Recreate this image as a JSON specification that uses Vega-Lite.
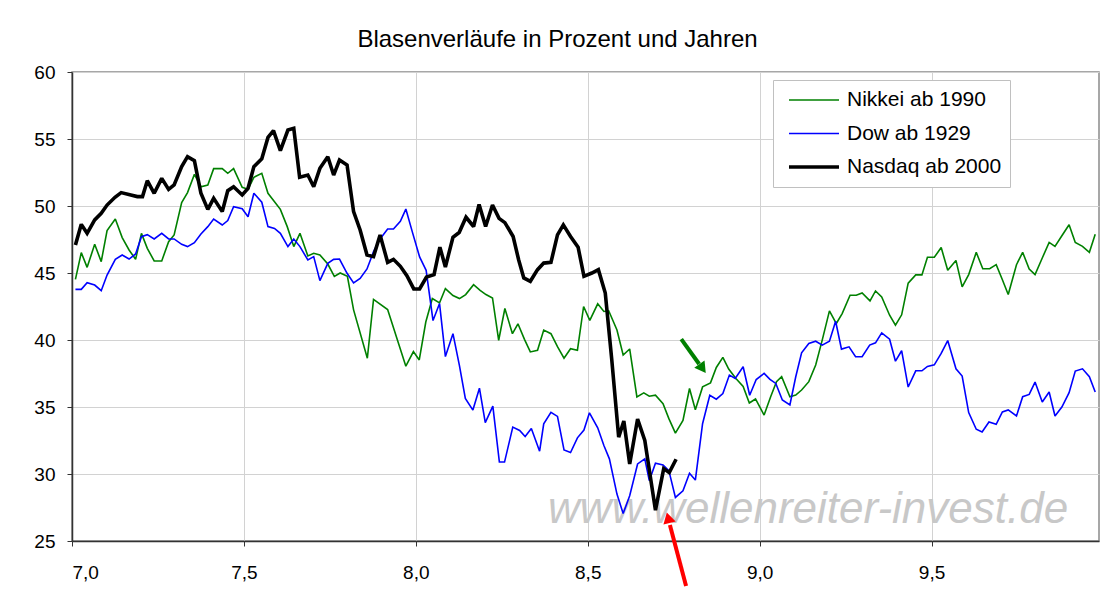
{
  "$schema": "https://vega.github.io/schema/vega-lite/v6.json",
  "autosize": {"type": "none"},
  "width": 1027,
  "height": 469,
  "padding": {"left": 72, "top": 72, "right": 13, "bottom": 56},
  "background": "white",
  "title": {"text": "Blasenverläufe in Prozent und Jahren", "fontSize": 24, "font": "Liberation Sans", "fontWeight": "normal", "color": "#000000", "anchor": "middle", "dx": -28, "offset": 11},
  "config": {
    "font": "Liberation Sans",
    "view": {"stroke": "#8a8a8a", "strokeWidth": 1.5},
    "axis": {"gridColor": "#d2d2d2", "gridWidth": 1, "domainColor": "#333333", "domainWidth": 1.5, "tickColor": "#333333", "labelColor": "#000000", "labelFont": "Liberation Sans", "labelFontSize": 19, "tickSize": 5}
  },
  "datasets": {
    "series": [
      {"s":"Nikkei ab 1990","x":7.010,"v":44.53},{"s":"Nikkei ab 1990","x":7.027,"v":46.52},{"s":"Nikkei ab 1990","x":7.044,"v":45.42},{"s":"Nikkei ab 1990","x":7.066,"v":47.14},{"s":"Nikkei ab 1990","x":7.085,"v":45.85},{"s":"Nikkei ab 1990","x":7.102,"v":48.16},{"s":"Nikkei ab 1990","x":7.126,"v":49.03},{"s":"Nikkei ab 1990","x":7.146,"v":47.64},{"s":"Nikkei ab 1990","x":7.166,"v":46.72},{"s":"Nikkei ab 1990","x":7.185,"v":46.02},{"s":"Nikkei ab 1990","x":7.202,"v":47.96},{"s":"Nikkei ab 1990","x":7.219,"v":46.84},{"s":"Nikkei ab 1990","x":7.239,"v":45.90},{"s":"Nikkei ab 1990","x":7.261,"v":45.90},{"s":"Nikkei ab 1990","x":7.281,"v":47.34},{"s":"Nikkei ab 1990","x":7.297,"v":47.84},{"s":"Nikkei ab 1990","x":7.319,"v":50.25},{"s":"Nikkei ab 1990","x":7.336,"v":51.00},{"s":"Nikkei ab 1990","x":7.356,"v":52.36},{"s":"Nikkei ab 1990","x":7.375,"v":51.44},{"s":"Nikkei ab 1990","x":7.395,"v":51.57},{"s":"Nikkei ab 1990","x":7.412,"v":52.79},{"s":"Nikkei ab 1990","x":7.437,"v":52.79},{"s":"Nikkei ab 1990","x":7.453,"v":52.44},{"s":"Nikkei ab 1990","x":7.470,"v":52.79},{"s":"Nikkei ab 1990","x":7.495,"v":51.40},{"s":"Nikkei ab 1990","x":7.512,"v":51.25},{"s":"Nikkei ab 1990","x":7.529,"v":52.14},{"s":"Nikkei ab 1990","x":7.552,"v":52.44},{"s":"Nikkei ab 1990","x":7.570,"v":50.95},{"s":"Nikkei ab 1990","x":7.589,"v":50.32},{"s":"Nikkei ab 1990","x":7.606,"v":49.75},{"s":"Nikkei ab 1990","x":7.626,"v":48.46},{"s":"Nikkei ab 1990","x":7.645,"v":46.97},{"s":"Nikkei ab 1990","x":7.663,"v":47.96},{"s":"Nikkei ab 1990","x":7.686,"v":46.27},{"s":"Nikkei ab 1990","x":7.703,"v":46.47},{"s":"Nikkei ab 1990","x":7.721,"v":46.34},{"s":"Nikkei ab 1990","x":7.744,"v":45.67},{"s":"Nikkei ab 1990","x":7.763,"v":44.75},{"s":"Nikkei ab 1990","x":7.780,"v":45.00},{"s":"Nikkei ab 1990","x":7.801,"v":44.75},{"s":"Nikkei ab 1990","x":7.819,"v":42.25},{"s":"Nikkei ab 1990","x":7.859,"v":38.64},{"s":"Nikkei ab 1990","x":7.877,"v":43.03},{"s":"Nikkei ab 1990","x":7.918,"v":42.27},{"s":"Nikkei ab 1990","x":7.971,"v":38.05},{"s":"Nikkei ab 1990","x":7.993,"v":39.14},{"s":"Nikkei ab 1990","x":8.010,"v":38.51},{"s":"Nikkei ab 1990","x":8.029,"v":41.34},{"s":"Nikkei ab 1990","x":8.048,"v":43.10},{"s":"Nikkei ab 1990","x":8.069,"v":42.77},{"s":"Nikkei ab 1990","x":8.086,"v":43.84},{"s":"Nikkei ab 1990","x":8.108,"v":43.32},{"s":"Nikkei ab 1990","x":8.127,"v":43.09},{"s":"Nikkei ab 1990","x":8.145,"v":43.39},{"s":"Nikkei ab 1990","x":8.168,"v":44.13},{"s":"Nikkei ab 1990","x":8.187,"v":43.71},{"s":"Nikkei ab 1990","x":8.204,"v":43.39},{"s":"Nikkei ab 1990","x":8.223,"v":43.14},{"s":"Nikkei ab 1990","x":8.241,"v":39.98},{"s":"Nikkei ab 1990","x":8.259,"v":42.35},{"s":"Nikkei ab 1990","x":8.281,"v":40.47},{"s":"Nikkei ab 1990","x":8.297,"v":41.21},{"s":"Nikkei ab 1990","x":8.316,"v":40.05},{"s":"Nikkei ab 1990","x":8.333,"v":39.11},{"s":"Nikkei ab 1990","x":8.354,"v":39.23},{"s":"Nikkei ab 1990","x":8.372,"v":40.74},{"s":"Nikkei ab 1990","x":8.393,"v":40.47},{"s":"Nikkei ab 1990","x":8.412,"v":39.50},{"s":"Nikkei ab 1990","x":8.431,"v":38.64},{"s":"Nikkei ab 1990","x":8.450,"v":39.35},{"s":"Nikkei ab 1990","x":8.470,"v":39.23},{"s":"Nikkei ab 1990","x":8.488,"v":42.50},{"s":"Nikkei ab 1990","x":8.506,"v":41.46},{"s":"Nikkei ab 1990","x":8.529,"v":42.70},{"s":"Nikkei ab 1990","x":8.547,"v":42.13},{"s":"Nikkei ab 1990","x":8.561,"v":42.18},{"s":"Nikkei ab 1990","x":8.585,"v":40.75},{"s":"Nikkei ab 1990","x":8.603,"v":38.88},{"s":"Nikkei ab 1990","x":8.622,"v":39.33},{"s":"Nikkei ab 1990","x":8.643,"v":35.75},{"s":"Nikkei ab 1990","x":8.663,"v":36.05},{"s":"Nikkei ab 1990","x":8.679,"v":35.80},{"s":"Nikkei ab 1990","x":8.697,"v":35.88},{"s":"Nikkei ab 1990","x":8.719,"v":35.25},{"s":"Nikkei ab 1990","x":8.736,"v":34.13},{"s":"Nikkei ab 1990","x":8.755,"v":33.05},{"s":"Nikkei ab 1990","x":8.777,"v":34.00},{"s":"Nikkei ab 1990","x":8.796,"v":36.38},{"s":"Nikkei ab 1990","x":8.813,"v":34.80},{"s":"Nikkei ab 1990","x":8.834,"v":36.50},{"s":"Nikkei ab 1990","x":8.857,"v":36.80},{"s":"Nikkei ab 1990","x":8.874,"v":37.95},{"s":"Nikkei ab 1990","x":8.893,"v":38.70},{"s":"Nikkei ab 1990","x":8.910,"v":37.83},{"s":"Nikkei ab 1990","x":8.931,"v":37.13},{"s":"Nikkei ab 1990","x":8.952,"v":36.53},{"s":"Nikkei ab 1990","x":8.970,"v":35.30},{"s":"Nikkei ab 1990","x":8.988,"v":35.60},{"s":"Nikkei ab 1990","x":9.013,"v":34.40},{"s":"Nikkei ab 1990","x":9.032,"v":35.77},{"s":"Nikkei ab 1990","x":9.049,"v":36.89},{"s":"Nikkei ab 1990","x":9.064,"v":37.26},{"s":"Nikkei ab 1990","x":9.088,"v":35.77},{"s":"Nikkei ab 1990","x":9.105,"v":35.89},{"s":"Nikkei ab 1990","x":9.122,"v":36.27},{"s":"Nikkei ab 1990","x":9.143,"v":36.89},{"s":"Nikkei ab 1990","x":9.163,"v":38.13},{"s":"Nikkei ab 1990","x":9.182,"v":39.99},{"s":"Nikkei ab 1990","x":9.203,"v":42.17},{"s":"Nikkei ab 1990","x":9.223,"v":41.23},{"s":"Nikkei ab 1990","x":9.240,"v":41.97},{"s":"Nikkei ab 1990","x":9.263,"v":43.34},{"s":"Nikkei ab 1990","x":9.281,"v":43.34},{"s":"Nikkei ab 1990","x":9.298,"v":43.51},{"s":"Nikkei ab 1990","x":9.321,"v":42.92},{"s":"Nikkei ab 1990","x":9.337,"v":43.66},{"s":"Nikkei ab 1990","x":9.355,"v":43.21},{"s":"Nikkei ab 1990","x":9.378,"v":41.85},{"s":"Nikkei ab 1990","x":9.395,"v":41.10},{"s":"Nikkei ab 1990","x":9.413,"v":41.88},{"s":"Nikkei ab 1990","x":9.432,"v":44.24},{"s":"Nikkei ab 1990","x":9.454,"v":44.86},{"s":"Nikkei ab 1990","x":9.472,"v":44.86},{"s":"Nikkei ab 1990","x":9.488,"v":46.17},{"s":"Nikkei ab 1990","x":9.508,"v":46.17},{"s":"Nikkei ab 1990","x":9.528,"v":46.90},{"s":"Nikkei ab 1990","x":9.547,"v":45.20},{"s":"Nikkei ab 1990","x":9.571,"v":45.94},{"s":"Nikkei ab 1990","x":9.589,"v":43.96},{"s":"Nikkei ab 1990","x":9.608,"v":44.88},{"s":"Nikkei ab 1990","x":9.630,"v":46.54},{"s":"Nikkei ab 1990","x":9.649,"v":45.32},{"s":"Nikkei ab 1990","x":9.669,"v":45.32},{"s":"Nikkei ab 1990","x":9.688,"v":45.62},{"s":"Nikkei ab 1990","x":9.706,"v":44.50},{"s":"Nikkei ab 1990","x":9.723,"v":43.39},{"s":"Nikkei ab 1990","x":9.747,"v":45.62},{"s":"Nikkei ab 1990","x":9.765,"v":46.54},{"s":"Nikkei ab 1990","x":9.784,"v":45.30},{"s":"Nikkei ab 1990","x":9.801,"v":44.88},{"s":"Nikkei ab 1990","x":9.822,"v":46.12},{"s":"Nikkei ab 1990","x":9.842,"v":47.28},{"s":"Nikkei ab 1990","x":9.859,"v":46.99},{"s":"Nikkei ab 1990","x":9.879,"v":47.78},{"s":"Nikkei ab 1990","x":9.900,"v":48.60},{"s":"Nikkei ab 1990","x":9.918,"v":47.28},{"s":"Nikkei ab 1990","x":9.939,"v":46.99},{"s":"Nikkei ab 1990","x":9.959,"v":46.54},{"s":"Nikkei ab 1990","x":9.976,"v":47.90},
      {"s":"Dow  ab 1929","x":7.010,"v":43.78},{"s":"Dow  ab 1929","x":7.027,"v":43.78},{"s":"Dow  ab 1929","x":7.044,"v":44.28},{"s":"Dow  ab 1929","x":7.066,"v":44.10},{"s":"Dow  ab 1929","x":7.085,"v":43.68},{"s":"Dow  ab 1929","x":7.102,"v":44.85},{"s":"Dow  ab 1929","x":7.126,"v":46.02},{"s":"Dow  ab 1929","x":7.146,"v":46.34},{"s":"Dow  ab 1929","x":7.166,"v":46.04},{"s":"Dow  ab 1929","x":7.185,"v":46.42},{"s":"Dow  ab 1929","x":7.202,"v":47.71},{"s":"Dow  ab 1929","x":7.219,"v":47.86},{"s":"Dow  ab 1929","x":7.239,"v":47.54},{"s":"Dow  ab 1929","x":7.261,"v":47.96},{"s":"Dow  ab 1929","x":7.281,"v":47.54},{"s":"Dow  ab 1929","x":7.297,"v":47.54},{"s":"Dow  ab 1929","x":7.319,"v":47.14},{"s":"Dow  ab 1929","x":7.336,"v":46.97},{"s":"Dow  ab 1929","x":7.356,"v":47.26},{"s":"Dow  ab 1929","x":7.375,"v":47.91},{"s":"Dow  ab 1929","x":7.395,"v":48.46},{"s":"Dow  ab 1929","x":7.412,"v":49.03},{"s":"Dow  ab 1929","x":7.437,"v":48.58},{"s":"Dow  ab 1929","x":7.453,"v":48.91},{"s":"Dow  ab 1929","x":7.470,"v":49.95},{"s":"Dow  ab 1929","x":7.495,"v":49.80},{"s":"Dow  ab 1929","x":7.512,"v":49.20},{"s":"Dow  ab 1929","x":7.529,"v":50.95},{"s":"Dow  ab 1929","x":7.552,"v":50.28},{"s":"Dow  ab 1929","x":7.570,"v":48.46},{"s":"Dow  ab 1929","x":7.589,"v":48.33},{"s":"Dow  ab 1929","x":7.606,"v":47.96},{"s":"Dow  ab 1929","x":7.628,"v":46.97},{"s":"Dow  ab 1929","x":7.645,"v":47.54},{"s":"Dow  ab 1929","x":7.663,"v":46.97},{"s":"Dow  ab 1929","x":7.686,"v":45.97},{"s":"Dow  ab 1929","x":7.703,"v":46.22},{"s":"Dow  ab 1929","x":7.721,"v":44.43},{"s":"Dow  ab 1929","x":7.744,"v":45.72},{"s":"Dow  ab 1929","x":7.761,"v":46.02},{"s":"Dow  ab 1929","x":7.778,"v":46.04},{"s":"Dow  ab 1929","x":7.800,"v":44.98},{"s":"Dow  ab 1929","x":7.819,"v":44.26},{"s":"Dow  ab 1929","x":7.838,"v":44.60},{"s":"Dow  ab 1929","x":7.858,"v":45.30},{"s":"Dow  ab 1929","x":7.877,"v":46.59},{"s":"Dow  ab 1929","x":7.896,"v":47.54},{"s":"Dow  ab 1929","x":7.918,"v":48.28},{"s":"Dow  ab 1929","x":7.935,"v":48.28},{"s":"Dow  ab 1929","x":7.955,"v":48.85},{"s":"Dow  ab 1929","x":7.971,"v":49.77},{"s":"Dow  ab 1929","x":7.990,"v":48.05},{"s":"Dow  ab 1929","x":8.011,"v":46.20},{"s":"Dow  ab 1929","x":8.030,"v":45.20},{"s":"Dow  ab 1929","x":8.050,"v":41.45},{"s":"Dow  ab 1929","x":8.069,"v":42.72},{"s":"Dow  ab 1929","x":8.086,"v":38.76},{"s":"Dow  ab 1929","x":8.108,"v":40.47},{"s":"Dow  ab 1929","x":8.127,"v":38.07},{"s":"Dow  ab 1929","x":8.144,"v":35.64},{"s":"Dow  ab 1929","x":8.166,"v":34.77},{"s":"Dow  ab 1929","x":8.185,"v":36.40},{"s":"Dow  ab 1929","x":8.202,"v":33.84},{"s":"Dow  ab 1929","x":8.224,"v":35.07},{"s":"Dow  ab 1929","x":8.243,"v":30.89},{"s":"Dow  ab 1929","x":8.258,"v":30.89},{"s":"Dow  ab 1929","x":8.282,"v":33.50},{"s":"Dow  ab 1929","x":8.302,"v":33.25},{"s":"Dow  ab 1929","x":8.318,"v":32.80},{"s":"Dow  ab 1929","x":8.336,"v":33.40},{"s":"Dow  ab 1929","x":8.360,"v":31.70},{"s":"Dow  ab 1929","x":8.372,"v":33.74},{"s":"Dow  ab 1929","x":8.393,"v":34.60},{"s":"Dow  ab 1929","x":8.412,"v":34.30},{"s":"Dow  ab 1929","x":8.431,"v":31.80},{"s":"Dow  ab 1929","x":8.450,"v":31.60},{"s":"Dow  ab 1929","x":8.470,"v":32.70},{"s":"Dow  ab 1929","x":8.489,"v":33.28},{"s":"Dow  ab 1929","x":8.505,"v":34.57},{"s":"Dow  ab 1929","x":8.529,"v":33.45},{"s":"Dow  ab 1929","x":8.547,"v":32.13},{"s":"Dow  ab 1929","x":8.563,"v":31.13},{"s":"Dow  ab 1929","x":8.585,"v":28.50},{"s":"Dow  ab 1929","x":8.603,"v":27.05},{"s":"Dow  ab 1929","x":8.622,"v":28.38},{"s":"Dow  ab 1929","x":8.645,"v":30.75},{"s":"Dow  ab 1929","x":8.666,"v":31.13},{"s":"Dow  ab 1929","x":8.679,"v":29.50},{"s":"Dow  ab 1929","x":8.697,"v":30.80},{"s":"Dow  ab 1929","x":8.719,"v":30.68},{"s":"Dow  ab 1929","x":8.736,"v":30.25},{"s":"Dow  ab 1929","x":8.755,"v":28.25},{"s":"Dow  ab 1929","x":8.777,"v":28.75},{"s":"Dow  ab 1929","x":8.796,"v":30.05},{"s":"Dow  ab 1929","x":8.813,"v":29.55},{"s":"Dow  ab 1929","x":8.834,"v":33.75},{"s":"Dow  ab 1929","x":8.855,"v":35.88},{"s":"Dow  ab 1929","x":8.874,"v":35.58},{"s":"Dow  ab 1929","x":8.893,"v":36.00},{"s":"Dow  ab 1929","x":8.912,"v":37.38},{"s":"Dow  ab 1929","x":8.929,"v":37.13},{"s":"Dow  ab 1929","x":8.952,"v":38.00},{"s":"Dow  ab 1929","x":8.971,"v":35.88},{"s":"Dow  ab 1929","x":8.990,"v":37.05},{"s":"Dow  ab 1929","x":9.013,"v":37.51},{"s":"Dow  ab 1929","x":9.030,"v":37.06},{"s":"Dow  ab 1929","x":9.047,"v":36.76},{"s":"Dow  ab 1929","x":9.066,"v":35.52},{"s":"Dow  ab 1929","x":9.088,"v":35.15},{"s":"Dow  ab 1929","x":9.105,"v":37.26},{"s":"Dow  ab 1929","x":9.122,"v":39.04},{"s":"Dow  ab 1929","x":9.143,"v":39.74},{"s":"Dow  ab 1929","x":9.163,"v":39.91},{"s":"Dow  ab 1929","x":9.182,"v":39.62},{"s":"Dow  ab 1929","x":9.203,"v":39.91},{"s":"Dow  ab 1929","x":9.221,"v":41.40},{"s":"Dow  ab 1929","x":9.238,"v":39.32},{"s":"Dow  ab 1929","x":9.260,"v":39.49},{"s":"Dow  ab 1929","x":9.279,"v":38.75},{"s":"Dow  ab 1929","x":9.298,"v":38.75},{"s":"Dow  ab 1929","x":9.320,"v":39.62},{"s":"Dow  ab 1929","x":9.337,"v":39.79},{"s":"Dow  ab 1929","x":9.355,"v":40.53},{"s":"Dow  ab 1929","x":9.378,"v":40.06},{"s":"Dow  ab 1929","x":9.395,"v":38.42},{"s":"Dow  ab 1929","x":9.413,"v":39.20},{"s":"Dow  ab 1929","x":9.432,"v":36.49},{"s":"Dow  ab 1929","x":9.454,"v":37.70},{"s":"Dow  ab 1929","x":9.472,"v":37.70},{"s":"Dow  ab 1929","x":9.488,"v":38.03},{"s":"Dow  ab 1929","x":9.508,"v":38.15},{"s":"Dow  ab 1929","x":9.528,"v":39.00},{"s":"Dow  ab 1929","x":9.547,"v":39.96},{"s":"Dow  ab 1929","x":9.571,"v":37.85},{"s":"Dow  ab 1929","x":9.589,"v":37.31},{"s":"Dow  ab 1929","x":9.608,"v":34.58},{"s":"Dow  ab 1929","x":9.630,"v":33.34},{"s":"Dow  ab 1929","x":9.647,"v":33.14},{"s":"Dow  ab 1929","x":9.667,"v":33.88},{"s":"Dow  ab 1929","x":9.688,"v":33.71},{"s":"Dow  ab 1929","x":9.706,"v":34.63},{"s":"Dow  ab 1929","x":9.723,"v":34.78},{"s":"Dow  ab 1929","x":9.747,"v":34.33},{"s":"Dow  ab 1929","x":9.765,"v":35.77},{"s":"Dow  ab 1929","x":9.784,"v":35.94},{"s":"Dow  ab 1929","x":9.801,"v":36.86},{"s":"Dow  ab 1929","x":9.822,"v":35.37},{"s":"Dow  ab 1929","x":9.842,"v":36.12},{"s":"Dow  ab 1929","x":9.859,"v":34.33},{"s":"Dow  ab 1929","x":9.879,"v":35.00},{"s":"Dow  ab 1929","x":9.900,"v":36.07},{"s":"Dow  ab 1929","x":9.918,"v":37.68},{"s":"Dow  ab 1929","x":9.939,"v":37.85},{"s":"Dow  ab 1929","x":9.959,"v":37.26},{"s":"Dow  ab 1929","x":9.976,"v":36.12},
      {"s":"Nasdaq ab 2000","x":7.010,"v":47.09},{"s":"Nasdaq ab 2000","x":7.027,"v":48.63},{"s":"Nasdaq ab 2000","x":7.044,"v":47.96},{"s":"Nasdaq ab 2000","x":7.066,"v":48.96},{"s":"Nasdaq ab 2000","x":7.085,"v":49.45},{"s":"Nasdaq ab 2000","x":7.102,"v":50.07},{"s":"Nasdaq ab 2000","x":7.125,"v":50.65},{"s":"Nasdaq ab 2000","x":7.143,"v":51.00},{"s":"Nasdaq ab 2000","x":7.171,"v":50.82},{"s":"Nasdaq ab 2000","x":7.190,"v":50.70},{"s":"Nasdaq ab 2000","x":7.205,"v":50.70},{"s":"Nasdaq ab 2000","x":7.219,"v":51.89},{"s":"Nasdaq ab 2000","x":7.239,"v":50.95},{"s":"Nasdaq ab 2000","x":7.261,"v":52.06},{"s":"Nasdaq ab 2000","x":7.281,"v":51.24},{"s":"Nasdaq ab 2000","x":7.297,"v":51.57},{"s":"Nasdaq ab 2000","x":7.319,"v":52.94},{"s":"Nasdaq ab 2000","x":7.336,"v":53.68},{"s":"Nasdaq ab 2000","x":7.356,"v":53.38},{"s":"Nasdaq ab 2000","x":7.375,"v":50.95},{"s":"Nasdaq ab 2000","x":7.395,"v":49.75},{"s":"Nasdaq ab 2000","x":7.412,"v":50.57},{"s":"Nasdaq ab 2000","x":7.437,"v":49.58},{"s":"Nasdaq ab 2000","x":7.453,"v":51.14},{"s":"Nasdaq ab 2000","x":7.470,"v":51.44},{"s":"Nasdaq ab 2000","x":7.495,"v":50.82},{"s":"Nasdaq ab 2000","x":7.512,"v":51.32},{"s":"Nasdaq ab 2000","x":7.529,"v":52.94},{"s":"Nasdaq ab 2000","x":7.552,"v":53.52},{"s":"Nasdaq ab 2000","x":7.570,"v":55.12},{"s":"Nasdaq ab 2000","x":7.586,"v":55.62},{"s":"Nasdaq ab 2000","x":7.606,"v":54.13},{"s":"Nasdaq ab 2000","x":7.628,"v":55.67},{"s":"Nasdaq ab 2000","x":7.645,"v":55.80},{"s":"Nasdaq ab 2000","x":7.662,"v":52.14},{"s":"Nasdaq ab 2000","x":7.686,"v":52.31},{"s":"Nasdaq ab 2000","x":7.703,"v":51.44},{"s":"Nasdaq ab 2000","x":7.721,"v":52.81},{"s":"Nasdaq ab 2000","x":7.744,"v":53.68},{"s":"Nasdaq ab 2000","x":7.761,"v":52.31},{"s":"Nasdaq ab 2000","x":7.778,"v":53.43},{"s":"Nasdaq ab 2000","x":7.800,"v":53.06},{"s":"Nasdaq ab 2000","x":7.819,"v":49.58},{"s":"Nasdaq ab 2000","x":7.838,"v":48.21},{"s":"Nasdaq ab 2000","x":7.858,"v":46.34},{"s":"Nasdaq ab 2000","x":7.877,"v":46.22},{"s":"Nasdaq ab 2000","x":7.896,"v":47.84},{"s":"Nasdaq ab 2000","x":7.918,"v":45.80},{"s":"Nasdaq ab 2000","x":7.935,"v":46.02},{"s":"Nasdaq ab 2000","x":7.955,"v":45.50},{"s":"Nasdaq ab 2000","x":7.974,"v":44.80},{"s":"Nasdaq ab 2000","x":7.994,"v":43.81},{"s":"Nasdaq ab 2000","x":8.011,"v":43.81},{"s":"Nasdaq ab 2000","x":8.031,"v":44.70},{"s":"Nasdaq ab 2000","x":8.053,"v":44.88},{"s":"Nasdaq ab 2000","x":8.070,"v":46.93},{"s":"Nasdaq ab 2000","x":8.086,"v":45.45},{"s":"Nasdaq ab 2000","x":8.108,"v":47.67},{"s":"Nasdaq ab 2000","x":8.126,"v":48.02},{"s":"Nasdaq ab 2000","x":8.146,"v":49.16},{"s":"Nasdaq ab 2000","x":8.168,"v":48.47},{"s":"Nasdaq ab 2000","x":8.184,"v":50.12},{"s":"Nasdaq ab 2000","x":8.203,"v":48.47},{"s":"Nasdaq ab 2000","x":8.223,"v":50.07},{"s":"Nasdaq ab 2000","x":8.242,"v":49.08},{"s":"Nasdaq ab 2000","x":8.259,"v":48.76},{"s":"Nasdaq ab 2000","x":8.283,"v":47.72},{"s":"Nasdaq ab 2000","x":8.299,"v":45.99},{"s":"Nasdaq ab 2000","x":8.314,"v":44.63},{"s":"Nasdaq ab 2000","x":8.333,"v":44.38},{"s":"Nasdaq ab 2000","x":8.354,"v":45.25},{"s":"Nasdaq ab 2000","x":8.372,"v":45.74},{"s":"Nasdaq ab 2000","x":8.393,"v":45.79},{"s":"Nasdaq ab 2000","x":8.412,"v":47.85},{"s":"Nasdaq ab 2000","x":8.429,"v":48.59},{"s":"Nasdaq ab 2000","x":8.450,"v":47.72},{"s":"Nasdaq ab 2000","x":8.472,"v":46.93},{"s":"Nasdaq ab 2000","x":8.489,"v":44.75},{"s":"Nasdaq ab 2000","x":8.512,"v":45.00},{"s":"Nasdaq ab 2000","x":8.531,"v":45.25},{"s":"Nasdaq ab 2000","x":8.551,"v":43.50},{"s":"Nasdaq ab 2000","x":8.570,"v":38.50},{"s":"Nasdaq ab 2000","x":8.590,"v":32.75},{"s":"Nasdaq ab 2000","x":8.605,"v":33.95},{"s":"Nasdaq ab 2000","x":8.622,"v":30.75},{"s":"Nasdaq ab 2000","x":8.645,"v":34.10},{"s":"Nasdaq ab 2000","x":8.666,"v":32.50},{"s":"Nasdaq ab 2000","x":8.697,"v":27.30},{"s":"Nasdaq ab 2000","x":8.721,"v":30.40},{"s":"Nasdaq ab 2000","x":8.737,"v":30.10},{"s":"Nasdaq ab 2000","x":8.757,"v":31.10}
    ],
    "arrows": [
      {"a":"green","x1":8.772,"y1":40.07,"x2":8.824,"y2":38.21,"hx":8.834,"hy":37.87,"ang":144.5},
      {"a":"red","x1":8.786,"y1":21.64,"x2":8.739,"y2":26.19,"hx":8.734,"hy":26.74,"ang":345.3}
    ],
    "marks": [
      {"t":"www.wellenreiter-invest.de","x":9.141,"y":27.3}
    ]
  },
  "layer": [
    {
      "data": {"name": "marks"},
      "mark": {"type": "text", "font": "Liberation Sans", "fontSize": 44, "fontStyle": "italic", "color": "#c8c8c8", "align": "center", "baseline": "middle"},
      "encoding": {
        "x": {"field": "x", "type": "quantitative", "scale": {"domain": [7, 9.987], "nice": false, "zero": false}},
        "y": {"field": "y", "type": "quantitative", "scale": {"domain": [25, 60], "nice": false, "zero": false}},
        "text": {"field": "t"}
      }
    },
    {
      "data": {"name": "series"},
      "mark": {"type": "line", "strokeJoin": "miter", "strokeMiterLimit": 2},
      "encoding": {
        "x": {"field": "x", "type": "quantitative", "scale": {"domain": [7, 9.987], "nice": false, "zero": false},
              "axis": {"title": null, "values": [7, 7.5, 8, 8.5, 9, 9.5], "labelExpr": "replace(format(datum.value, '.1f'), '.', ',')", "labelPadding": 17, "grid": true}},
        "y": {"field": "v", "type": "quantitative", "scale": {"domain": [25, 60], "nice": false, "zero": false},
              "axis": {"title": null, "values": [25, 30, 35, 40, 45, 50, 55, 60], "labelPadding": 12, "grid": true}},
        "color": {"field": "s", "type": "nominal",
                  "scale": {"domain": ["Nikkei ab 1990", "Dow  ab 1929", "Nasdaq ab 2000"], "range": ["#008000", "#0000ff", "#000000"]},
                  "legend": {"title": null, "orient": "none", "legendX": 701, "legendY": 8, "direction": "vertical", "symbolType": "stroke", "symbolSize": 2500, "symbolOffset": 6, "clipHeight": 24, "rowPadding": 9.5, "labelFontSize": 21, "labelFont": "Liberation Sans", "labelColor": "#000000", "labelOffset": 6, "padding": 8, "strokeColor": "#c0c0c0", "fillColor": "#ffffff"}},
        "strokeWidth": {"field": "s", "type": "nominal",
                  "scale": {"type": "ordinal", "domain": ["Nikkei ab 1990", "Dow  ab 1929", "Nasdaq ab 2000"], "range": [1.6, 1.6, 3.6]},
                  "legend": {"title": null, "orient": "none", "legendX": 701, "legendY": 8, "direction": "vertical", "symbolType": "stroke", "symbolSize": 2500, "symbolOffset": 6, "clipHeight": 24, "rowPadding": 9.5, "labelFontSize": 21, "labelFont": "Liberation Sans", "labelColor": "#000000", "labelOffset": 6, "padding": 8, "strokeColor": "#c0c0c0", "fillColor": "#ffffff"}},
        "order": {"field": "x", "type": "quantitative"}
      }
    },
    {
      "data": {"name": "arrows"},
      "mark": {"type": "rule", "strokeWidth": 4, "clip": false},
      "encoding": {
        "x": {"field": "x1", "type": "quantitative"},
        "y": {"field": "y1", "type": "quantitative"},
        "x2": {"field": "x2"},
        "y2": {"field": "y2"},
        "color": {"field": "a", "type": "nominal", "scale": null, "legend": null}
      }
    },
    {
      "data": {"name": "arrows"},
      "mark": {"type": "point", "shape": "triangle-up", "filled": true, "size": 160, "opacity": 1, "clip": false},
      "encoding": {
        "x": {"field": "hx", "type": "quantitative"},
        "y": {"field": "hy", "type": "quantitative"},
        "angle": {"field": "ang", "type": "quantitative", "scale": null},
        "color": {"field": "a", "type": "nominal", "scale": null, "legend": null}
      }
    }
  ]
}
